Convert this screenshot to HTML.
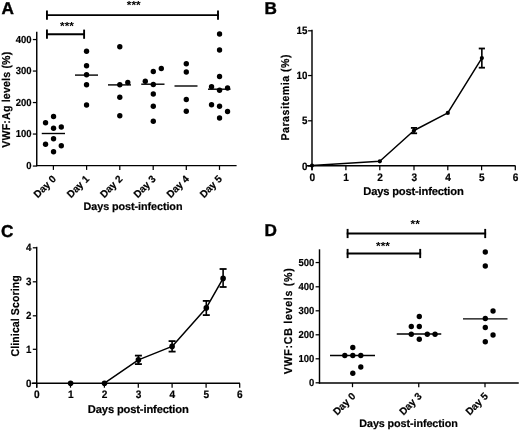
<!DOCTYPE html>
<html><head><meta charset="utf-8"><title>Figure</title>
<style>
html,body{margin:0;padding:0;background:#fff;}
body{width:520px;height:431px;overflow:hidden;}
svg{display:block;}
svg text{text-rendering:geometricPrecision;font-family:"Liberation Sans",sans-serif;fill:#000;}
</style></head><body>
<svg width="520" height="431" viewBox="0 0 520 431">
<rect x="0" y="0" width="520" height="431" fill="#fff"/>
<text transform="translate(1.50 14.00)" font-size="17.2" font-weight="bold" text-anchor="start" stroke="#000" stroke-width="0.4">A</text>
<line x1="36.75" y1="31.80" x2="36.75" y2="166.30" stroke="#000" stroke-width="1.45" stroke-linecap="butt"/>
<line x1="36.05" y1="165.60" x2="236.60" y2="165.60" stroke="#000" stroke-width="1.45" stroke-linecap="butt"/>
<line x1="32.85" y1="39.55" x2="36.75" y2="39.55" stroke="#000" stroke-width="1.25" stroke-linecap="butt"/>
<text transform="translate(31.55 42.92) scale(0.93 1)" font-size="10.2" font-weight="bold" text-anchor="end" stroke="#000" stroke-width="0.2">400</text>
<line x1="32.85" y1="71.05" x2="36.75" y2="71.05" stroke="#000" stroke-width="1.25" stroke-linecap="butt"/>
<text transform="translate(31.55 74.42) scale(0.93 1)" font-size="10.2" font-weight="bold" text-anchor="end" stroke="#000" stroke-width="0.2">300</text>
<line x1="32.85" y1="102.55" x2="36.75" y2="102.55" stroke="#000" stroke-width="1.25" stroke-linecap="butt"/>
<text transform="translate(31.55 105.92) scale(0.93 1)" font-size="10.2" font-weight="bold" text-anchor="end" stroke="#000" stroke-width="0.2">200</text>
<line x1="32.85" y1="134.05" x2="36.75" y2="134.05" stroke="#000" stroke-width="1.25" stroke-linecap="butt"/>
<text transform="translate(31.55 137.42) scale(0.93 1)" font-size="10.2" font-weight="bold" text-anchor="end" stroke="#000" stroke-width="0.2">100</text>
<line x1="32.85" y1="166.05" x2="36.75" y2="166.05" stroke="#000" stroke-width="1.25" stroke-linecap="butt"/>
<text transform="translate(31.55 169.42) scale(0.93 1)" font-size="10.2" font-weight="bold" text-anchor="end" stroke="#000" stroke-width="0.2">0</text>
<line x1="53.40" y1="165.60" x2="53.40" y2="169.90" stroke="#000" stroke-width="1.25" stroke-linecap="butt"/>
<text transform="translate(56.70 179.60) rotate(-45) scale(0.98 1)" font-size="10.2" font-weight="bold" text-anchor="end" stroke="#000" stroke-width="0.2">Day 0</text>
<line x1="86.60" y1="165.60" x2="86.60" y2="169.90" stroke="#000" stroke-width="1.25" stroke-linecap="butt"/>
<text transform="translate(89.90 179.60) rotate(-45) scale(0.98 1)" font-size="10.2" font-weight="bold" text-anchor="end" stroke="#000" stroke-width="0.2">Day 1</text>
<line x1="119.80" y1="165.60" x2="119.80" y2="169.90" stroke="#000" stroke-width="1.25" stroke-linecap="butt"/>
<text transform="translate(123.10 179.60) rotate(-45) scale(0.98 1)" font-size="10.2" font-weight="bold" text-anchor="end" stroke="#000" stroke-width="0.2">Day 2</text>
<line x1="153.20" y1="165.60" x2="153.20" y2="169.90" stroke="#000" stroke-width="1.25" stroke-linecap="butt"/>
<text transform="translate(156.50 179.60) rotate(-45) scale(0.98 1)" font-size="10.2" font-weight="bold" text-anchor="end" stroke="#000" stroke-width="0.2">Day 3</text>
<line x1="186.30" y1="165.60" x2="186.30" y2="169.90" stroke="#000" stroke-width="1.25" stroke-linecap="butt"/>
<text transform="translate(189.60 179.60) rotate(-45) scale(0.98 1)" font-size="10.2" font-weight="bold" text-anchor="end" stroke="#000" stroke-width="0.2">Day 4</text>
<line x1="219.50" y1="165.60" x2="219.50" y2="169.90" stroke="#000" stroke-width="1.25" stroke-linecap="butt"/>
<text transform="translate(222.80 179.60) rotate(-45) scale(0.98 1)" font-size="10.2" font-weight="bold" text-anchor="end" stroke="#000" stroke-width="0.2">Day 5</text>
<text transform="translate(9.60 99.75) rotate(-90) scale(0.93 1)" font-size="11.4" font-weight="bold" text-anchor="middle" textLength="103.23" lengthAdjust="spacing" stroke="#000" stroke-width="0.2">VWF:Ag levels (%)</text>
<text transform="translate(133.00 210.40)" font-size="10.8" font-weight="bold" text-anchor="middle" textLength="99.00" lengthAdjust="spacing" stroke="#000" stroke-width="0.2">Days post-infection</text>
<circle cx="53.55" cy="116.55" r="2.68" fill="#000"/>
<circle cx="45.55" cy="122.80" r="2.68" fill="#000"/>
<circle cx="53.55" cy="128.30" r="2.68" fill="#000"/>
<circle cx="61.30" cy="127.05" r="2.68" fill="#000"/>
<circle cx="53.55" cy="138.80" r="2.68" fill="#000"/>
<circle cx="45.55" cy="144.30" r="2.68" fill="#000"/>
<circle cx="61.30" cy="145.80" r="2.68" fill="#000"/>
<circle cx="53.55" cy="151.80" r="2.68" fill="#000"/>
<circle cx="86.55" cy="51.30" r="2.68" fill="#000"/>
<circle cx="86.55" cy="65.80" r="2.68" fill="#000"/>
<circle cx="86.55" cy="74.80" r="2.68" fill="#000"/>
<circle cx="86.55" cy="84.80" r="2.68" fill="#000"/>
<circle cx="86.55" cy="105.05" r="2.68" fill="#000"/>
<circle cx="119.80" cy="46.80" r="2.68" fill="#000"/>
<circle cx="119.80" cy="84.80" r="2.68" fill="#000"/>
<circle cx="127.80" cy="82.55" r="2.68" fill="#000"/>
<circle cx="119.80" cy="97.30" r="2.68" fill="#000"/>
<circle cx="119.80" cy="115.80" r="2.68" fill="#000"/>
<circle cx="153.30" cy="71.55" r="2.68" fill="#000"/>
<circle cx="161.30" cy="68.55" r="2.68" fill="#000"/>
<circle cx="145.30" cy="81.30" r="2.68" fill="#000"/>
<circle cx="153.30" cy="84.55" r="2.68" fill="#000"/>
<circle cx="153.30" cy="94.05" r="2.68" fill="#000"/>
<circle cx="153.30" cy="106.30" r="2.68" fill="#000"/>
<circle cx="153.30" cy="121.30" r="2.68" fill="#000"/>
<circle cx="186.30" cy="63.80" r="2.68" fill="#000"/>
<circle cx="186.30" cy="72.05" r="2.68" fill="#000"/>
<circle cx="186.30" cy="99.55" r="2.68" fill="#000"/>
<circle cx="186.30" cy="111.30" r="2.68" fill="#000"/>
<circle cx="219.55" cy="34.05" r="2.68" fill="#000"/>
<circle cx="219.55" cy="50.05" r="2.68" fill="#000"/>
<circle cx="219.55" cy="76.55" r="2.68" fill="#000"/>
<circle cx="211.55" cy="86.80" r="2.68" fill="#000"/>
<circle cx="219.55" cy="90.30" r="2.68" fill="#000"/>
<circle cx="227.55" cy="88.05" r="2.68" fill="#000"/>
<circle cx="211.55" cy="104.80" r="2.68" fill="#000"/>
<circle cx="219.55" cy="106.30" r="2.68" fill="#000"/>
<circle cx="227.55" cy="111.55" r="2.68" fill="#000"/>
<circle cx="219.55" cy="118.05" r="2.68" fill="#000"/>
<line x1="41.75" y1="133.50" x2="65.00" y2="133.50" stroke="#000" stroke-width="1.4" stroke-linecap="butt"/>
<line x1="75.00" y1="75.10" x2="98.00" y2="75.10" stroke="#000" stroke-width="1.4" stroke-linecap="butt"/>
<line x1="108.00" y1="84.90" x2="131.00" y2="84.90" stroke="#000" stroke-width="1.4" stroke-linecap="butt"/>
<line x1="141.25" y1="84.20" x2="164.50" y2="84.20" stroke="#000" stroke-width="1.4" stroke-linecap="butt"/>
<line x1="174.50" y1="86.00" x2="197.50" y2="86.00" stroke="#000" stroke-width="1.4" stroke-linecap="butt"/>
<line x1="208.00" y1="89.20" x2="230.50" y2="89.20" stroke="#000" stroke-width="1.4" stroke-linecap="butt"/>
<line x1="46.05" y1="15.10" x2="218.90" y2="15.10" stroke="#000" stroke-width="1.9" stroke-linecap="butt"/>
<line x1="46.95" y1="10.50" x2="46.95" y2="19.70" stroke="#000" stroke-width="1.9" stroke-linecap="butt"/>
<line x1="218.00" y1="10.50" x2="218.00" y2="19.70" stroke="#000" stroke-width="1.9" stroke-linecap="butt"/>
<text transform="translate(133.75 9.20)" font-size="11.8" font-weight="bold" text-anchor="middle">***</text>
<line x1="46.05" y1="34.20" x2="85.00" y2="34.20" stroke="#000" stroke-width="1.9" stroke-linecap="butt"/>
<line x1="46.95" y1="29.60" x2="46.95" y2="38.80" stroke="#000" stroke-width="1.9" stroke-linecap="butt"/>
<line x1="84.10" y1="29.60" x2="84.10" y2="38.80" stroke="#000" stroke-width="1.9" stroke-linecap="butt"/>
<text transform="translate(67.00 30.20)" font-size="11.8" font-weight="bold" text-anchor="middle">***</text>
<text transform="translate(264.60 13.60)" font-size="17.2" font-weight="bold" text-anchor="start" stroke="#000" stroke-width="0.4">B</text>
<line x1="312.00" y1="29.80" x2="312.00" y2="170.25" stroke="#000" stroke-width="1.45" stroke-linecap="butt"/>
<line x1="307.00" y1="165.75" x2="515.50" y2="165.75" stroke="#000" stroke-width="1.45" stroke-linecap="butt"/>
<line x1="308.10" y1="30.80" x2="312.00" y2="30.80" stroke="#000" stroke-width="1.25" stroke-linecap="butt"/>
<text transform="translate(307.40 34.28) scale(0.93 1)" font-size="10.5" font-weight="bold" text-anchor="end" stroke="#000" stroke-width="0.2">15</text>
<line x1="308.10" y1="75.55" x2="312.00" y2="75.55" stroke="#000" stroke-width="1.25" stroke-linecap="butt"/>
<text transform="translate(307.40 79.03) scale(0.93 1)" font-size="10.5" font-weight="bold" text-anchor="end" stroke="#000" stroke-width="0.2">10</text>
<line x1="308.10" y1="120.80" x2="312.00" y2="120.80" stroke="#000" stroke-width="1.25" stroke-linecap="butt"/>
<text transform="translate(307.40 124.28) scale(0.93 1)" font-size="10.5" font-weight="bold" text-anchor="end" stroke="#000" stroke-width="0.2">5</text>
<line x1="308.10" y1="166.05" x2="312.00" y2="166.05" stroke="#000" stroke-width="1.25" stroke-linecap="butt"/>
<text transform="translate(307.40 169.53) scale(0.93 1)" font-size="10.5" font-weight="bold" text-anchor="end" stroke="#000" stroke-width="0.2">0</text>
<line x1="312.00" y1="165.75" x2="312.00" y2="170.25" stroke="#000" stroke-width="1.25" stroke-linecap="butt"/>
<text transform="translate(312.20 180.65) scale(0.93 1)" font-size="10.899999999999999" font-weight="bold" text-anchor="middle" stroke="#000" stroke-width="0.2">0</text>
<line x1="345.90" y1="165.75" x2="345.90" y2="170.25" stroke="#000" stroke-width="1.25" stroke-linecap="butt"/>
<text transform="translate(346.10 180.65) scale(0.93 1)" font-size="10.899999999999999" font-weight="bold" text-anchor="middle" stroke="#000" stroke-width="0.2">1</text>
<line x1="379.80" y1="165.75" x2="379.80" y2="170.25" stroke="#000" stroke-width="1.25" stroke-linecap="butt"/>
<text transform="translate(380.00 180.65) scale(0.93 1)" font-size="10.899999999999999" font-weight="bold" text-anchor="middle" stroke="#000" stroke-width="0.2">2</text>
<line x1="414.00" y1="165.75" x2="414.00" y2="170.25" stroke="#000" stroke-width="1.25" stroke-linecap="butt"/>
<text transform="translate(414.20 180.65) scale(0.93 1)" font-size="10.899999999999999" font-weight="bold" text-anchor="middle" stroke="#000" stroke-width="0.2">3</text>
<line x1="447.80" y1="165.75" x2="447.80" y2="170.25" stroke="#000" stroke-width="1.25" stroke-linecap="butt"/>
<text transform="translate(448.00 180.65) scale(0.93 1)" font-size="10.899999999999999" font-weight="bold" text-anchor="middle" stroke="#000" stroke-width="0.2">4</text>
<line x1="481.60" y1="165.75" x2="481.60" y2="170.25" stroke="#000" stroke-width="1.25" stroke-linecap="butt"/>
<text transform="translate(481.80 180.65) scale(0.93 1)" font-size="10.899999999999999" font-weight="bold" text-anchor="middle" stroke="#000" stroke-width="0.2">5</text>
<line x1="515.30" y1="165.75" x2="515.30" y2="170.25" stroke="#000" stroke-width="1.25" stroke-linecap="butt"/>
<text transform="translate(515.50 180.65) scale(0.93 1)" font-size="10.899999999999999" font-weight="bold" text-anchor="middle" stroke="#000" stroke-width="0.2">6</text>
<text transform="translate(289.20 97.50) rotate(-90) scale(0.93 1)" font-size="11.3" font-weight="bold" text-anchor="middle" textLength="92.47" lengthAdjust="spacing" stroke="#000" stroke-width="0.2">Parasitemia (%)</text>
<text transform="translate(413.50 194.80)" font-size="11.2" font-weight="bold" text-anchor="middle" textLength="100.50" lengthAdjust="spacing" stroke="#000" stroke-width="0.2">Days post-infection</text>
<polyline points="312.00,165.60 379.80,161.30 414.00,130.50 447.80,112.90 481.85,58.10" fill="none" stroke="#000" stroke-width="1.5" stroke-linejoin="round"/>
<circle cx="312.00" cy="165.60" r="2.1" fill="#000"/>
<circle cx="379.80" cy="161.30" r="2.1" fill="#000"/>
<circle cx="414.00" cy="130.50" r="2.1" fill="#000"/>
<circle cx="447.80" cy="112.90" r="2.1" fill="#000"/>
<circle cx="481.85" cy="58.10" r="2.1" fill="#000"/>
<line x1="414.00" y1="127.90" x2="414.00" y2="133.30" stroke="#000" stroke-width="1.6" stroke-linecap="butt"/>
<line x1="410.90" y1="127.90" x2="417.10" y2="127.90" stroke="#000" stroke-width="1.8" stroke-linecap="butt"/>
<line x1="410.90" y1="133.30" x2="417.10" y2="133.30" stroke="#000" stroke-width="1.8" stroke-linecap="butt"/>
<line x1="481.85" y1="48.50" x2="481.85" y2="67.70" stroke="#000" stroke-width="1.6" stroke-linecap="butt"/>
<line x1="478.75" y1="48.50" x2="484.95" y2="48.50" stroke="#000" stroke-width="1.8" stroke-linecap="butt"/>
<line x1="478.75" y1="67.70" x2="484.95" y2="67.70" stroke="#000" stroke-width="1.8" stroke-linecap="butt"/>
<text transform="translate(1.10 236.50)" font-size="17.2" font-weight="bold" text-anchor="start" stroke="#000" stroke-width="0.4">C</text>
<line x1="36.70" y1="246.80" x2="36.70" y2="387.70" stroke="#000" stroke-width="1.45" stroke-linecap="butt"/>
<line x1="31.70" y1="383.20" x2="240.00" y2="383.20" stroke="#000" stroke-width="1.45" stroke-linecap="butt"/>
<line x1="32.80" y1="247.80" x2="36.70" y2="247.80" stroke="#000" stroke-width="1.25" stroke-linecap="butt"/>
<text transform="translate(31.50 251.28) scale(0.93 1)" font-size="10.5" font-weight="bold" text-anchor="end" stroke="#000" stroke-width="0.2">4</text>
<line x1="32.80" y1="281.80" x2="36.70" y2="281.80" stroke="#000" stroke-width="1.25" stroke-linecap="butt"/>
<text transform="translate(31.50 285.28) scale(0.93 1)" font-size="10.5" font-weight="bold" text-anchor="end" stroke="#000" stroke-width="0.2">3</text>
<line x1="32.80" y1="315.80" x2="36.70" y2="315.80" stroke="#000" stroke-width="1.25" stroke-linecap="butt"/>
<text transform="translate(31.50 319.28) scale(0.93 1)" font-size="10.5" font-weight="bold" text-anchor="end" stroke="#000" stroke-width="0.2">2</text>
<line x1="32.80" y1="349.30" x2="36.70" y2="349.30" stroke="#000" stroke-width="1.25" stroke-linecap="butt"/>
<text transform="translate(31.50 352.78) scale(0.93 1)" font-size="10.5" font-weight="bold" text-anchor="end" stroke="#000" stroke-width="0.2">1</text>
<line x1="32.80" y1="383.30" x2="36.70" y2="383.30" stroke="#000" stroke-width="1.25" stroke-linecap="butt"/>
<text transform="translate(31.50 386.78) scale(0.93 1)" font-size="10.5" font-weight="bold" text-anchor="end" stroke="#000" stroke-width="0.2">0</text>
<line x1="36.70" y1="383.20" x2="36.70" y2="387.70" stroke="#000" stroke-width="1.25" stroke-linecap="butt"/>
<text transform="translate(36.90 398.10) scale(0.93 1)" font-size="10.899999999999999" font-weight="bold" text-anchor="middle" stroke="#000" stroke-width="0.2">0</text>
<line x1="70.50" y1="383.20" x2="70.50" y2="387.70" stroke="#000" stroke-width="1.25" stroke-linecap="butt"/>
<text transform="translate(70.70 398.10) scale(0.93 1)" font-size="10.899999999999999" font-weight="bold" text-anchor="middle" stroke="#000" stroke-width="0.2">1</text>
<line x1="104.40" y1="383.20" x2="104.40" y2="387.70" stroke="#000" stroke-width="1.25" stroke-linecap="butt"/>
<text transform="translate(104.60 398.10) scale(0.93 1)" font-size="10.899999999999999" font-weight="bold" text-anchor="middle" stroke="#000" stroke-width="0.2">2</text>
<line x1="138.30" y1="383.20" x2="138.30" y2="387.70" stroke="#000" stroke-width="1.25" stroke-linecap="butt"/>
<text transform="translate(138.50 398.10) scale(0.93 1)" font-size="10.899999999999999" font-weight="bold" text-anchor="middle" stroke="#000" stroke-width="0.2">3</text>
<line x1="172.10" y1="383.20" x2="172.10" y2="387.70" stroke="#000" stroke-width="1.25" stroke-linecap="butt"/>
<text transform="translate(172.30 398.10) scale(0.93 1)" font-size="10.899999999999999" font-weight="bold" text-anchor="middle" stroke="#000" stroke-width="0.2">4</text>
<line x1="206.10" y1="383.20" x2="206.10" y2="387.70" stroke="#000" stroke-width="1.25" stroke-linecap="butt"/>
<text transform="translate(206.30 398.10) scale(0.93 1)" font-size="10.899999999999999" font-weight="bold" text-anchor="middle" stroke="#000" stroke-width="0.2">5</text>
<line x1="239.70" y1="383.20" x2="239.70" y2="387.70" stroke="#000" stroke-width="1.25" stroke-linecap="butt"/>
<text transform="translate(239.90 398.10) scale(0.93 1)" font-size="10.899999999999999" font-weight="bold" text-anchor="middle" stroke="#000" stroke-width="0.2">6</text>
<text transform="translate(18.70 315.90) rotate(-90) scale(0.93 1)" font-size="11.3" font-weight="bold" text-anchor="middle" textLength="87.10" lengthAdjust="spacing" stroke="#000" stroke-width="0.2">Clinical Scoring</text>
<text transform="translate(138.30 412.60)" font-size="11.2" font-weight="bold" text-anchor="middle" textLength="101.00" lengthAdjust="spacing" stroke="#000" stroke-width="0.2">Days post-infection</text>
<polyline points="104.50,383.20 138.40,359.90 172.10,346.40 206.30,307.90 223.10,278.40" fill="none" stroke="#000" stroke-width="1.5" stroke-linejoin="round"/>
<circle cx="70.60" cy="383.20" r="2.8" fill="#000"/>
<circle cx="104.50" cy="383.20" r="2.8" fill="#000"/>
<circle cx="138.40" cy="359.90" r="2.8" fill="#000"/>
<circle cx="172.10" cy="346.40" r="2.8" fill="#000"/>
<circle cx="206.30" cy="307.90" r="2.8" fill="#000"/>
<circle cx="223.10" cy="278.40" r="2.8" fill="#000"/>
<line x1="138.40" y1="355.60" x2="138.40" y2="364.10" stroke="#000" stroke-width="1.6" stroke-linecap="butt"/>
<line x1="134.90" y1="355.60" x2="141.90" y2="355.60" stroke="#000" stroke-width="1.8" stroke-linecap="butt"/>
<line x1="134.90" y1="364.10" x2="141.90" y2="364.10" stroke="#000" stroke-width="1.8" stroke-linecap="butt"/>
<line x1="172.10" y1="341.10" x2="172.10" y2="351.60" stroke="#000" stroke-width="1.6" stroke-linecap="butt"/>
<line x1="168.60" y1="341.10" x2="175.60" y2="341.10" stroke="#000" stroke-width="1.8" stroke-linecap="butt"/>
<line x1="168.60" y1="351.60" x2="175.60" y2="351.60" stroke="#000" stroke-width="1.8" stroke-linecap="butt"/>
<line x1="206.30" y1="300.90" x2="206.30" y2="315.10" stroke="#000" stroke-width="1.6" stroke-linecap="butt"/>
<line x1="202.80" y1="300.90" x2="209.80" y2="300.90" stroke="#000" stroke-width="1.8" stroke-linecap="butt"/>
<line x1="202.80" y1="315.10" x2="209.80" y2="315.10" stroke="#000" stroke-width="1.8" stroke-linecap="butt"/>
<line x1="223.10" y1="269.00" x2="223.10" y2="287.00" stroke="#000" stroke-width="1.6" stroke-linecap="butt"/>
<line x1="219.60" y1="269.00" x2="226.60" y2="269.00" stroke="#000" stroke-width="1.8" stroke-linecap="butt"/>
<line x1="219.60" y1="287.00" x2="226.60" y2="287.00" stroke="#000" stroke-width="1.8" stroke-linecap="butt"/>
<text transform="translate(264.60 236.30)" font-size="17.2" font-weight="bold" text-anchor="start" stroke="#000" stroke-width="0.4">D</text>
<line x1="319.50" y1="249.30" x2="319.50" y2="383.60" stroke="#000" stroke-width="1.45" stroke-linecap="butt"/>
<line x1="318.80" y1="382.90" x2="518.75" y2="382.90" stroke="#000" stroke-width="1.45" stroke-linecap="butt"/>
<line x1="315.60" y1="262.55" x2="319.50" y2="262.55" stroke="#000" stroke-width="1.25" stroke-linecap="butt"/>
<text transform="translate(314.30 265.92) scale(0.93 1)" font-size="10.2" font-weight="bold" text-anchor="end" stroke="#000" stroke-width="0.2">500</text>
<line x1="315.60" y1="286.80" x2="319.50" y2="286.80" stroke="#000" stroke-width="1.25" stroke-linecap="butt"/>
<text transform="translate(314.30 290.17) scale(0.93 1)" font-size="10.2" font-weight="bold" text-anchor="end" stroke="#000" stroke-width="0.2">400</text>
<line x1="315.60" y1="310.80" x2="319.50" y2="310.80" stroke="#000" stroke-width="1.25" stroke-linecap="butt"/>
<text transform="translate(314.30 314.17) scale(0.93 1)" font-size="10.2" font-weight="bold" text-anchor="end" stroke="#000" stroke-width="0.2">300</text>
<line x1="315.60" y1="334.80" x2="319.50" y2="334.80" stroke="#000" stroke-width="1.25" stroke-linecap="butt"/>
<text transform="translate(314.30 338.17) scale(0.93 1)" font-size="10.2" font-weight="bold" text-anchor="end" stroke="#000" stroke-width="0.2">200</text>
<line x1="315.60" y1="358.80" x2="319.50" y2="358.80" stroke="#000" stroke-width="1.25" stroke-linecap="butt"/>
<text transform="translate(314.30 362.17) scale(0.93 1)" font-size="10.2" font-weight="bold" text-anchor="end" stroke="#000" stroke-width="0.2">100</text>
<line x1="315.60" y1="382.80" x2="319.50" y2="382.80" stroke="#000" stroke-width="1.25" stroke-linecap="butt"/>
<text transform="translate(314.30 386.17) scale(0.93 1)" font-size="10.2" font-weight="bold" text-anchor="end" stroke="#000" stroke-width="0.2">0</text>
<line x1="352.50" y1="382.90" x2="352.50" y2="387.20" stroke="#000" stroke-width="1.25" stroke-linecap="butt"/>
<text transform="translate(356.10 396.90) rotate(-45) scale(0.98 1)" font-size="10.2" font-weight="bold" text-anchor="end" stroke="#000" stroke-width="0.2">Day 0</text>
<line x1="418.75" y1="382.90" x2="418.75" y2="387.20" stroke="#000" stroke-width="1.25" stroke-linecap="butt"/>
<text transform="translate(422.35 396.90) rotate(-45) scale(0.98 1)" font-size="10.2" font-weight="bold" text-anchor="end" stroke="#000" stroke-width="0.2">Day 3</text>
<line x1="485.00" y1="382.90" x2="485.00" y2="387.20" stroke="#000" stroke-width="1.25" stroke-linecap="butt"/>
<text transform="translate(488.60 396.90) rotate(-45) scale(0.98 1)" font-size="10.2" font-weight="bold" text-anchor="end" stroke="#000" stroke-width="0.2">Day 5</text>
<text transform="translate(291.60 321.20) rotate(-90) scale(0.93 1)" font-size="11.4" font-weight="bold" text-anchor="middle" textLength="113.98" lengthAdjust="spacing" stroke="#000" stroke-width="0.2">VWF:CB levels (%)</text>
<text transform="translate(408.50 426.70)" font-size="10.8" font-weight="bold" text-anchor="middle" textLength="98.50" lengthAdjust="spacing" stroke="#000" stroke-width="0.2">Days post-infection</text>
<circle cx="352.80" cy="347.55" r="2.68" fill="#000"/>
<circle cx="344.80" cy="355.55" r="2.68" fill="#000"/>
<circle cx="352.80" cy="355.55" r="2.68" fill="#000"/>
<circle cx="360.80" cy="355.55" r="2.68" fill="#000"/>
<circle cx="360.80" cy="367.05" r="2.68" fill="#000"/>
<circle cx="352.80" cy="373.30" r="2.68" fill="#000"/>
<circle cx="411.30" cy="326.55" r="2.68" fill="#000"/>
<circle cx="419.30" cy="326.55" r="2.68" fill="#000"/>
<circle cx="411.30" cy="334.30" r="2.68" fill="#000"/>
<circle cx="427.30" cy="334.30" r="2.68" fill="#000"/>
<circle cx="435.05" cy="334.30" r="2.68" fill="#000"/>
<circle cx="419.30" cy="339.30" r="2.68" fill="#000"/>
<circle cx="419.30" cy="316.55" r="2.68" fill="#000"/>
<circle cx="485.30" cy="252.05" r="2.68" fill="#000"/>
<circle cx="485.30" cy="266.05" r="2.68" fill="#000"/>
<circle cx="493.05" cy="311.05" r="2.68" fill="#000"/>
<circle cx="485.30" cy="318.55" r="2.68" fill="#000"/>
<circle cx="485.30" cy="327.55" r="2.68" fill="#000"/>
<circle cx="493.05" cy="335.05" r="2.68" fill="#000"/>
<circle cx="485.30" cy="341.80" r="2.68" fill="#000"/>
<line x1="330.00" y1="355.50" x2="375.00" y2="355.50" stroke="#000" stroke-width="1.4" stroke-linecap="butt"/>
<line x1="396.75" y1="334.00" x2="441.25" y2="334.00" stroke="#000" stroke-width="1.4" stroke-linecap="butt"/>
<line x1="463.00" y1="318.90" x2="507.50" y2="318.90" stroke="#000" stroke-width="1.4" stroke-linecap="butt"/>
<line x1="346.70" y1="233.50" x2="486.10" y2="233.50" stroke="#000" stroke-width="1.9" stroke-linecap="butt"/>
<line x1="347.60" y1="228.90" x2="347.60" y2="238.10" stroke="#000" stroke-width="1.9" stroke-linecap="butt"/>
<line x1="485.20" y1="228.90" x2="485.20" y2="238.10" stroke="#000" stroke-width="1.9" stroke-linecap="butt"/>
<text transform="translate(415.20 227.90)" font-size="11.8" font-weight="bold" text-anchor="middle">**</text>
<line x1="346.70" y1="253.50" x2="421.10" y2="253.50" stroke="#000" stroke-width="1.9" stroke-linecap="butt"/>
<line x1="347.60" y1="248.90" x2="347.60" y2="258.10" stroke="#000" stroke-width="1.9" stroke-linecap="butt"/>
<line x1="420.20" y1="248.90" x2="420.20" y2="258.10" stroke="#000" stroke-width="1.9" stroke-linecap="butt"/>
<text transform="translate(383.00 250.10)" font-size="11.8" font-weight="bold" text-anchor="middle">***</text>
</svg>
</body></html>
